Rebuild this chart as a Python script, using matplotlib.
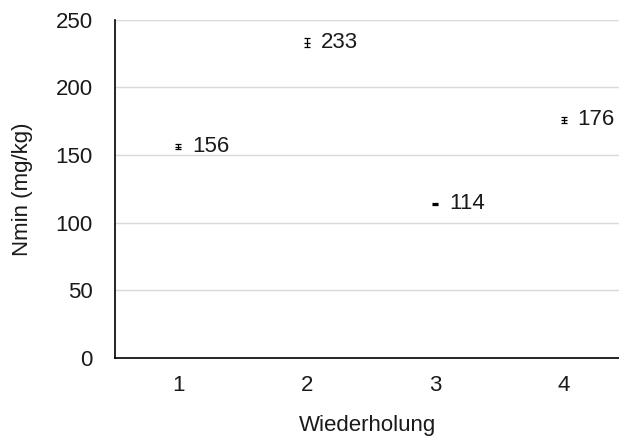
import matplotlib
matplotlib.use("Agg")
import matplotlib.pyplot as plt

# Nmin per Wiederholung (mean and error)
wiederholung = [1, 2, 3, 4]
nmin = [156, 233, 114, 176]
nmin_err = [1.9, 3.3, 0.7, 2.4]
tick_labels = ["1", "2", "3", "4"]

plt.rcParams["font.family"] = ["Liberation Sans", "DejaVu Sans"]
FS = 16

fig = plt.figure(figsize=(6.19, 4.38), dpi=100)
ax = fig.add_axes([0.186, 0.183, 0.814, 0.772])

ax.errorbar(wiederholung, nmin, yerr=nmin_err, fmt="_", color="black",
            markersize=4, markeredgewidth=0.9, ecolor="black", elinewidth=0.9,
            capsize=2.5, capthick=0.9, zorder=3)

for x, y in zip(wiederholung, nmin):
    ax.annotate(str(y), (x, y), xytext=(10, 0), textcoords="offset points",
                ha="left", va="center", fontsize=FS, color="#1a1a1a")

ax.set_xlim(0.51, 4.43)
ax.set_ylim(0, 250)
ax.set_yticks([0, 50, 100, 150, 200, 250])
ax.set_xticks(wiederholung)
ax.set_xticklabels(tick_labels)

ax.grid(axis="y", color="#d9d9d9", linewidth=1)
ax.set_axisbelow(True)
ax.tick_params(axis="both", length=0, labelsize=FS, colors="#1a1a1a")
ax.tick_params(axis="x", pad=12)
ax.tick_params(axis="y", pad=16)

for side in ["top", "right"]:
    ax.spines[side].set_visible(False)
for side in ["left", "bottom"]:
    ax.spines[side].set_color("black")
    ax.spines[side].set_linewidth(1.2)

ax.set_xlabel("Wiederholung", fontsize=FS, color="#1a1a1a", labelpad=14)
ax.set_ylabel("Nmin (mg/kg)", fontsize=FS, color="#1a1a1a", labelpad=16)

fig.savefig("out.png", dpi=100)
